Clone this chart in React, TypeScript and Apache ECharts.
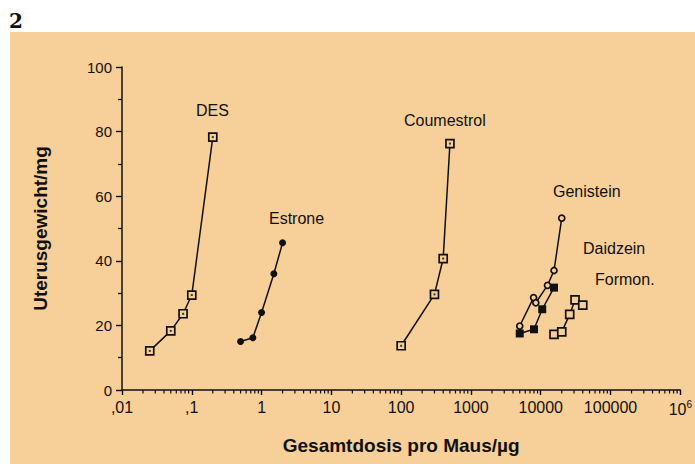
import React, { useEffect, useRef } from "react";
import * as echarts from "echarts";

const desDose = [0.025, 0.05, 0.075, 0.1, 0.2];
const desWeight = [12.1, 18.3, 23.6, 29.4, 78.3];
const estroneDose = [0.5, 0.75, 1.0, 1.5, 2.0];
const estroneWeight = [15.0, 16.2, 24.0, 36.0, 45.6];
const coumestrolDose = [100, 300, 400, 500];
const coumestrolWeight = [13.7, 29.6, 40.7, 76.3];
const genisteinDose = [5000, 7900, 8500, 12500, 15500, 20000];
const genisteinWeight = [19.8, 28.6, 27.0, 32.4, 37.0, 53.2];
const daidzeinDose = [5000, 8000, 10500, 15500];
const daidzeinWeight = [17.5, 18.8, 25.0, 31.7];
const formonDose = [15500, 20000, 26000, 31000, 40000];
const formonWeight = [17.2, 18.0, 23.4, 27.9, 26.3];

const seriesLabels = ["DES", "Estrone", "Coumestrol", "Genistein", "Daidzein", "Formon."];
const yTitle = "Uterusgewicht/mg";
const xTitle = "Gesamtdosis pro Maus/µg";
const panelLabel = "2";

const BG = "#f7cf99";
const INK = "#111";

function pairs(xs: number[], ys: number[]) {
  return xs.map((x, i) => [x, ys[i]]);
}

function minorTickValues(): number[] {
  const out: number[] = [];
  for (let e = -2; e < 6; e++) {
    for (let m = 2; m <= 9; m++) out.push(m * Math.pow(10, e));
  }
  return out;
}

export default function App() {
  const ref = useRef<HTMLDivElement>(null);
  useEffect(() => {
    if (!ref.current) return;
    const chart = echarts.init(ref.current, undefined, { renderer: "svg" });
    const lineStyle = { color: INK, width: 1.5 };
    const openSquare = (name: string, xs: number[], ys: number[], size: number, dot: boolean) => [
      {
        name,
        type: "line",
        data: pairs(xs, ys),
        symbol: "rect",
        symbolSize: size,
        lineStyle,
        itemStyle: { color: BG, borderColor: INK, borderWidth: 1.7 },
        z: 3,
      },
      ...(dot
        ? [
            {
              name: name + "-dot",
              type: "scatter",
              data: pairs(xs, ys),
              symbol: "rect",
              symbolSize: 2,
              itemStyle: { color: INK },
              z: 4,
            },
          ]
        : []),
    ];
    const option: any = {
      animation: false,
      grid: { left: 122, right: 12, top: 67, bottom: 74 },
      graphic: [
        { type: "rect", z: -10, shape: { x: 10, y: 32, width: 685, height: 432 }, style: { fill: BG } },
        {
          type: "text",
          x: 9,
          y: 11,
          style: { text: panelLabel, font: "bold 20px 'DejaVu Serif'", fill: INK },
        },
        { type: "text", x: 196, y: 110, style: { text: seriesLabels[0], font: "16px 'Liberation Sans'", fill: INK, verticalAlign: "middle" } },
        { type: "text", x: 269, y: 218, style: { text: seriesLabels[1], font: "16px 'Liberation Sans'", fill: INK, verticalAlign: "middle" } },
        { type: "text", x: 404, y: 120, style: { text: seriesLabels[2], font: "16px 'Liberation Sans'", fill: INK, verticalAlign: "middle" } },
        { type: "text", x: 553, y: 191, style: { text: seriesLabels[3], font: "16px 'Liberation Sans'", fill: INK, verticalAlign: "middle" } },
        { type: "text", x: 583, y: 248, style: { text: seriesLabels[4], font: "16px 'Liberation Sans'", fill: INK, verticalAlign: "middle" } },
        { type: "text", x: 595, y: 279, style: { text: seriesLabels[5], font: "16px 'Liberation Sans'", fill: INK, verticalAlign: "middle" } },
      ],
      xAxis: {
        type: "log",
        logBase: 10,
        min: 0.01,
        max: 1e6,
        interval: 1,
        name: xTitle,
        nameLocation: "middle",
        nameGap: 46,
        nameTextStyle: { fontFamily: "Liberation Sans", fontWeight: "bold", fontSize: 19, color: INK },
        axisLine: { lineStyle: { color: INK, width: 1.5 } },
        axisTick: { show: true, length: 5, lineStyle: { color: INK, width: 1.4 } },
        splitLine: { show: false },
        axisLabel: {
          fontFamily: "Liberation Sans",
          fontSize: 16,
          color: INK,
          margin: 9,
          formatter: (v: number) => {
            const e = Math.round(Math.log10(v));
            if (e === -2) return ",01";
            if (e === -1) return ",1";
            if (e === 6) return "10{sup|6}";
            return String(Math.pow(10, e));
          },
          rich: { sup: { fontSize: 10, verticalAlign: "top", padding: [0, 0, 10, 0], fontFamily: "Liberation Sans", color: INK } },
        },
      },
      yAxis: {
        type: "value",
        min: 0,
        max: 100,
        interval: 20,
        name: yTitle,
        nameLocation: "middle",
        nameGap: 72,
        nameTextStyle: { fontFamily: "Liberation Sans", fontWeight: "bold", fontSize: 19, color: INK },
        axisLine: { show: true, lineStyle: { color: INK, width: 1.5 } },
        axisTick: { show: true, length: 6, lineStyle: { color: INK, width: 1.4 } },
        minorTick: { show: true, splitNumber: 2, length: 4, lineStyle: { color: INK, width: 1.3 } },
        splitLine: { show: false },
        axisLabel: { fontFamily: "Liberation Sans", fontSize: 15, color: INK, margin: 10 },
      },
      series: [
        {
          name: "minor-x",
          type: "custom",
          clip: false,
          silent: true,
          data: minorTickValues().map((v) => [v, 0]),
          renderItem: (params: any, api: any) => {
            const p = api.coord([api.value(0), 0]);
            return {
              type: "line",
              shape: { x1: p[0], y1: p[1], x2: p[0], y2: p[1] + 3.5 },
              style: { stroke: INK, lineWidth: 1.2 },
            };
          },
          z: 1,
        },
        ...openSquare("DES", desDose, desWeight, 8, true),
        {
          name: "Estrone",
          type: "line",
          data: pairs(estroneDose, estroneWeight),
          symbol: "circle",
          symbolSize: 7,
          lineStyle,
          itemStyle: { color: INK },
          z: 3,
        },
        ...openSquare("Coumestrol", coumestrolDose, coumestrolWeight, 8, true),
        {
          name: "Genistein",
          type: "line",
          data: pairs(genisteinDose, genisteinWeight),
          symbol: "circle",
          symbolSize: 6,
          lineStyle,
          itemStyle: { color: BG, borderColor: INK, borderWidth: 1.7 },
          z: 3,
        },
        {
          name: "Daidzein",
          type: "line",
          data: pairs(daidzeinDose, daidzeinWeight),
          symbol: "rect",
          symbolSize: 8,
          lineStyle,
          itemStyle: { color: INK },
          z: 3,
        },
        ...openSquare("Formon.", formonDose, formonWeight, 8, false),
      ],
    };
    chart.setOption(option);
    return () => chart.dispose();
  }, []);
  return <div ref={ref} style={{ width: 695, height: 464, position: "absolute", left: 0, top: 0 }} />;
}
